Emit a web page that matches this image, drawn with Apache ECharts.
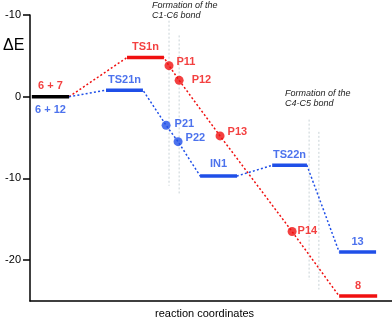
<!DOCTYPE html>
<html>
<head>
<meta charset="utf-8">
<script src="https://cdn.jsdelivr.net/npm/echarts@6/dist/echarts.min.js"></script>
<style>
  html, body { margin: 0; padding: 0; background: #fff; }
  #main { width: 392px; height: 320px; }
</style>
</head>
<body>
<div id="main"></div>
<script>
// energy levels (reaction coordinate 0..100, energy in kcal/mol)
const levelNames = ['start', 'TS1n', 'TS21n', 'IN1', 'TS22n', '13', '8'];
const levelPath = ['both', 'red', 'blue', 'blue', 'blue', 'blue', 'red'];
const levelStart = [0.5, 26.8, 21.0, 47.0, 66.9, 85.4, 85.4];
const levelEnd = [10.8, 37.0, 31.2, 57.2, 76.5, 95.6, 95.9];
const levelE = [0, 4.8, 0.8, -9.7, -8.4, -19.0, -24.4];

// intermediate points on the scans
const pointNames = ['P11', 'P12', 'P13', 'P14', 'P21', 'P22'];
const pointPath = ['red', 'red', 'red', 'red', 'blue', 'blue'];
const pointX = [38.4, 41.2, 52.5, 72.4, 37.6, 40.9];
const pointE = [3.8, 2.0, -4.8, -16.5, -3.5, -5.5];

// order of each path (level: L, point: P)
const redPath = ['L:start', 'L:TS1n', 'P:P11', 'P:P12', 'P:P13', 'P:P14', 'L:8'];
const bluePath = ['L:start', 'L:TS21n', 'P:P21', 'P:P22', 'L:IN1', 'L:TS22n', 'L:13'];

// bond formation guide lines [x, top E, bottom E]
const guideX = [38.4, 41.2, 77.1, 79.8];
const guideTop = [9.3, 7.5, -2.8, -4.3];
const guideBottom = [-10.9, -12.0, -22.4, -23.6];

const yTicks = [10, 0, -10, -20];

const RED = '#f01010';
const BLUE = '#1f4fe8';
const colorOf = { red: RED, blue: BLUE, both: '#000' };

function pathData(path) {
  let out = [];
  path.forEach(function (key, i) {
    let kind = key.split(':')[0], name = key.split(':')[1];
    if (kind === 'L') {
      let k = levelNames.indexOf(name);
      if (i > 0) out.push([levelStart[k], levelE[k]]);
      if (i < path.length - 1) out.push([levelEnd[k], levelE[k]]);
    } else {
      let k = pointNames.indexOf(name);
      out.push([pointX[k], pointE[k]]);
    }
  });
  return out;
}

let series = [];

// guide lines
guideX.forEach(function (x, i) {
  series.push({
    type: 'line', silent: true, symbol: 'none', z: 1,
    data: [[x, guideTop[i]], [x, guideBottom[i]]],
    lineStyle: { color: '#c8d2d6', width: 1, type: [2, 2] }
  });
});

// dotted connectors
series.push({
  type: 'line', symbol: 'none', z: 2, data: pathData(redPath),
  lineStyle: { color: RED, width: 1.5, type: [2, 2.2] }
});
series.push({
  type: 'line', symbol: 'none', z: 2, data: pathData(bluePath),
  lineStyle: { color: BLUE, width: 1.5, type: [2, 2.2] }
});

// level bars
levelNames.forEach(function (name, i) {
  series.push({
    type: 'line', symbol: 'none', z: 3,
    data: [[levelStart[i], levelE[i]], [levelEnd[i], levelE[i]]],
    lineStyle: { color: colorOf[levelPath[i]], width: 3.5 }
  });
});

// level labels
const levelLabelText = { start: null, TS1n: 'TS1n', TS21n: 'TS21n', IN1: 'IN1', TS22n: 'TS22n', '13': '13', '8': '8' };
let labelData = [];
levelNames.forEach(function (name, i) {
  let mid = (levelStart[i] + levelEnd[i]) / 2;
  if (name === 'start') {
    labelData.push({ value: [mid, levelE[i]], label: { formatter: '6 + 7', color: RED, position: 'top', distance: 5 } });
    labelData.push({ value: [mid, levelE[i]], label: { formatter: '6 + 12', color: BLUE, position: 'bottom', distance: 8 } });
  } else {
    labelData.push({ value: [mid, levelE[i]], label: { formatter: levelLabelText[name], color: colorOf[levelPath[i]], position: 'top', distance: name === 'IN1' ? 7 : 5 } });
  }
});
series.push({
  type: 'scatter', symbolSize: 0, z: 5, silent: true,
  data: labelData,
  label: { show: true, fontFamily: 'Liberation Sans', fontWeight: 'bold', fontSize: 11 }
});

// points
const pointOffset = { P11: [0, -4], P12: [5, 0], P13: [0, -4], P14: [-2, -1], P21: [1, -1], P22: [0, -4] };
series.push({
  type: 'scatter', symbol: 'circle', symbolSize: 9, z: 6,
  data: pointNames.map(function (name, i) {
    return {
      value: [pointX[i], pointE[i]],
      itemStyle: { color: colorOf[pointPath[i]] },
      label: { formatter: name, color: colorOf[pointPath[i]], offset: pointOffset[name] }
    };
  }),
  label: { show: true, position: 'right', distance: 3, fontFamily: 'Liberation Sans', fontWeight: 'bold', fontSize: 11 }
});

let chart = echarts.init(document.getElementById('main'));
chart.setOption({
  animation: false,
  backgroundColor: '#fff',
  grid: { left: 30, right: 0, top: 15, bottom: 19, containLabel: false },
  xAxis: {
    type: 'value', min: 0, max: 100,
    axisLine: { show: true, onZero: false, lineStyle: { color: '#000', width: 1.5 } },
    axisTick: { show: false }, axisLabel: { show: false }, splitLine: { show: false }
  },
  yAxis: {
    type: 'value', min: -25, max: 10,
    axisLine: { show: true, onZero: false, lineStyle: { color: '#000', width: 1.5 } },
    axisTick: { show: true, length: 7, customValues: yTicks, lineStyle: { color: '#000', width: 1.5 } },
    axisLabel: {
      customValues: yTicks, margin: 9, color: '#000', fontSize: 11, fontFamily: 'Liberation Sans',
      formatter: function (v) { return v === 0 ? '0' : '-' + Math.abs(v); }
    },
    splitLine: { show: false }
  },
  graphic: [
    { type: 'text', left: 3, top: 38, style: { text: 'ΔE', fontSize: 16, fontFamily: 'Liberation Sans', fill: '#000' } },
    { type: 'text', left: 152, top: 0, style: { text: 'Formation of the\nC1-C6 bond', fontSize: 9, fontStyle: 'italic', lineHeight: 10, fontFamily: 'Liberation Sans', fill: '#222' } },
    { type: 'text', left: 285, top: 88, style: { text: 'Formation of the\nC4-C5 bond', fontSize: 9, fontStyle: 'italic', lineHeight: 10, fontFamily: 'Liberation Sans', fill: '#222' } },
    { type: 'text', left: 155, top: 308, style: { text: 'reaction coordinates', fontSize: 11, fontFamily: 'Liberation Sans', fill: '#000' } }
  ],
  series: series
});
</script>
</body>
</html>
